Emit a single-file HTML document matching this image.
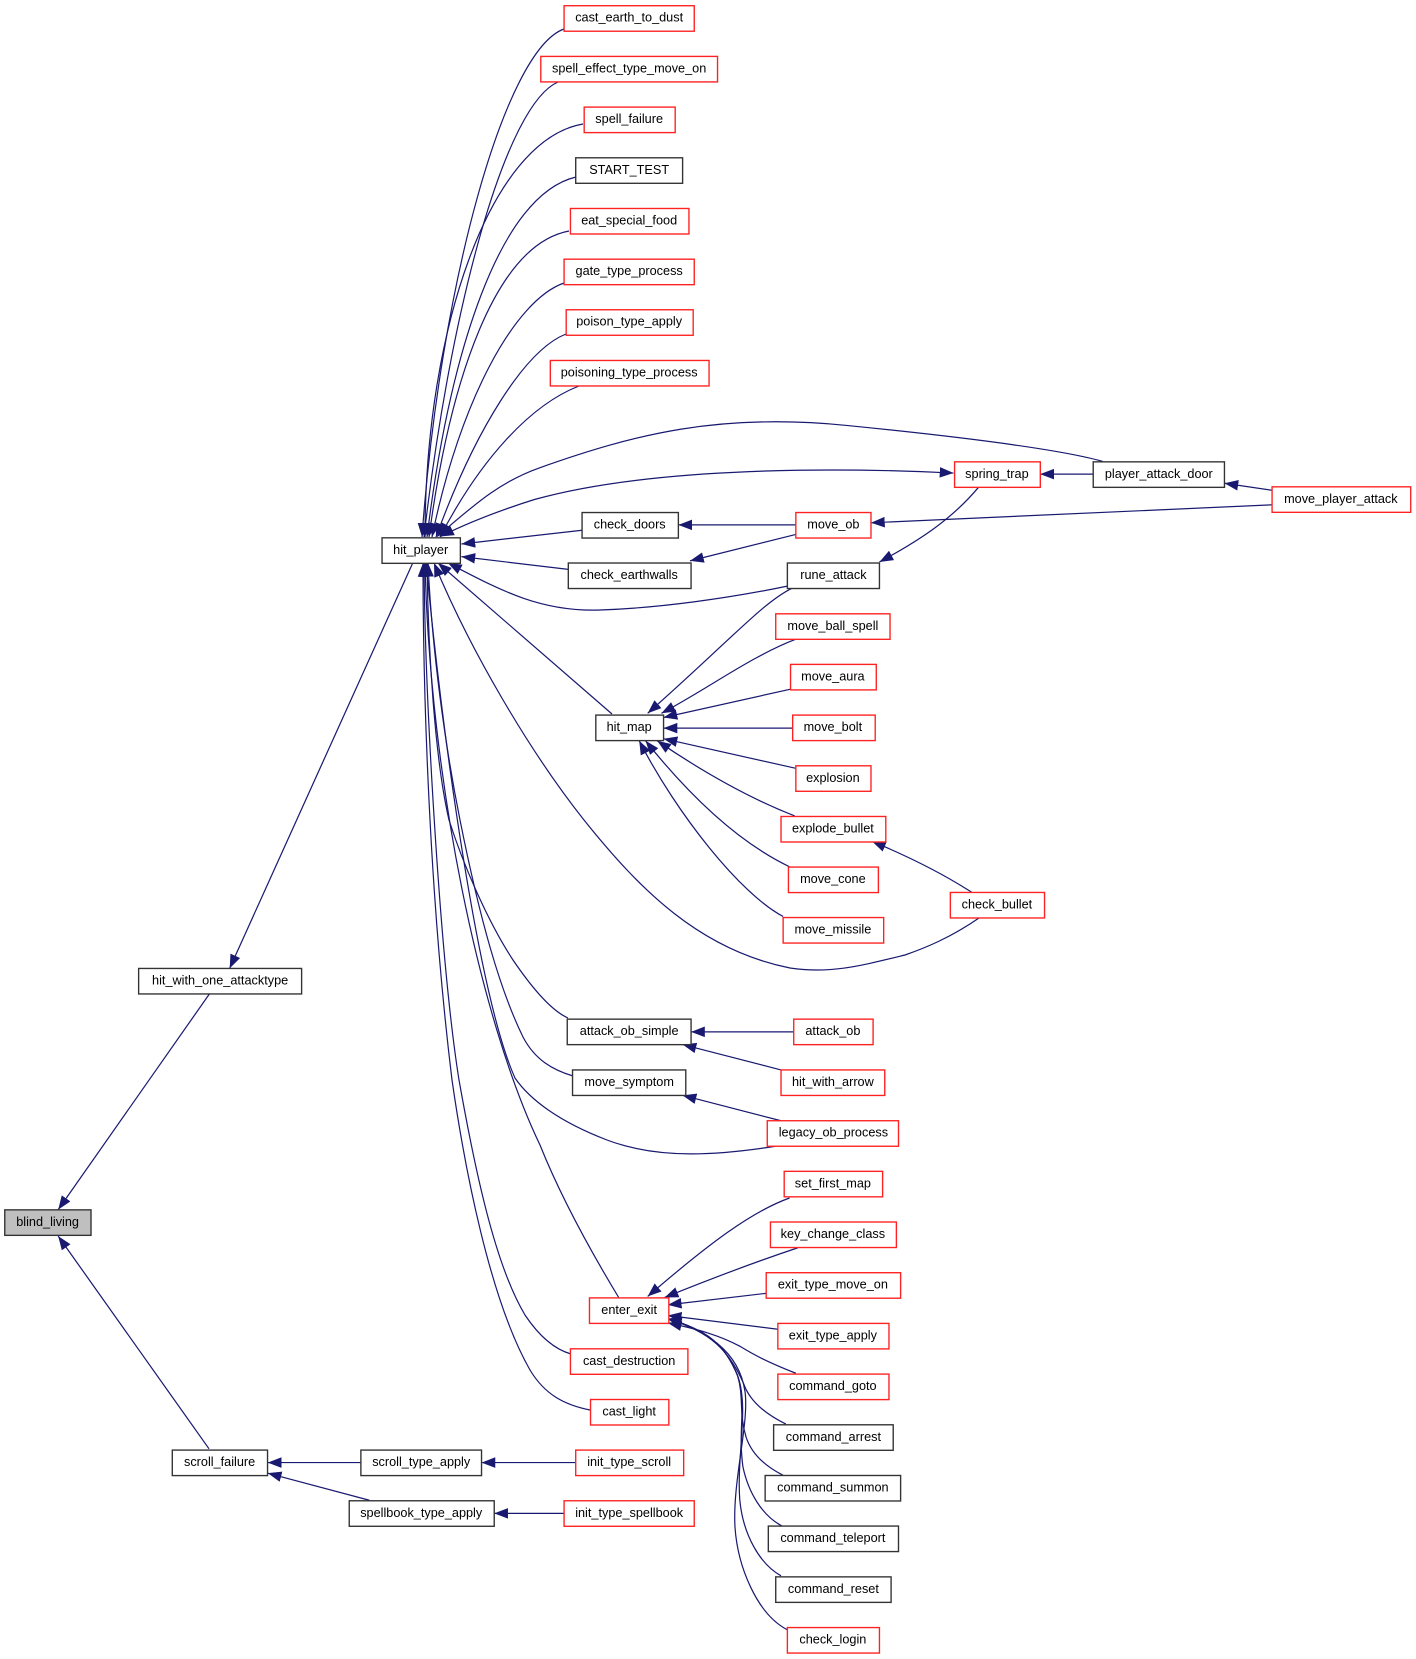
<!DOCTYPE html>
<html><head><meta charset="utf-8"><title>blind_living</title>
<style>
html,body{margin:0;padding:0;background:#fff;width:1416px;height:1659px;overflow:hidden}
svg{display:block}
text{font-family:"Liberation Sans",Arial,sans-serif;font-size:12px;text-anchor:middle;fill:#000;transform:translateY(-0.6px)}
.e path{fill:none;stroke:#191970;stroke-width:1.15;marker-end:url(#a)}
.f path{fill:none;stroke:#191970;stroke-width:1.2;marker-end:url(#c)}
rect{fill:#fff;stroke-width:1.3}
.b rect{stroke:#333}
.r rect{stroke:#f22}
</style></head><body>
<svg xmlns="http://www.w3.org/2000/svg" width="1416" height="1659" viewBox="0 0 1416 1659">
<defs>
<marker id="a" markerUnits="userSpaceOnUse" markerWidth="13" markerHeight="10.4" viewBox="0 0 13 10.4" refX="13" refY="5.2" orient="auto-start-reverse"><polygon points="0,0.2 13,5.2 0,10.2" fill="#191970"/></marker>
<marker id="c" markerUnits="userSpaceOnUse" markerWidth="13.75" markerHeight="11" viewBox="0 0 13 10.4" refX="13" refY="5.2" orient="auto-start-reverse"><polygon points="0,0.2 13,5.2 0,10.2" fill="#191970"/></marker>
</defs>
<g class="f">
<path d="M564,29 C505,50 440,285 422,537"/>
<path d="M558,82 C505,105 450,310 424,537"/>
<path d="M583,124 C490,140 425,330 425,537"/>
<path d="M576,177 C500,195 450,350 427,537"/>
<path d="M569,231 C495,245 450,380 429,537"/>
<path d="M564,283 C515,300 460,400 432,537"/>
<path d="M566,334 C525,350 475,430 436,537"/>
<path d="M579,386 C530,405 480,460 440,537"/>
<path d="M590,1410 C565,1405 545,1395 530,1370 C490,1300 465,1170 452,1080 C430,900 423,700 423,563"/>
<path d="M571,1354 C550,1348 535,1330 525,1315 C495,1265 475,1170 459,1080 C440,960 425,700 424,563"/>
<path d="M619,1298 C590,1250 560,1195 540,1145 C480,1020 430,780 425,563"/>
<path d="M777,1146 C720,1155 660,1160 607,1140 C560,1122 530,1100 515,1078 C480,1000 445,760 426,563"/>
<path d="M573,1076 C553,1070 535,1060 523,1037 C500,990 480,920 460,820 C445,745 432,650 428,563"/>
<path d="M568,1018 C550,1010 530,985 513,960 C490,925 465,870 449,820 C435,760 428,650 427,563"/>
<path d="M979,918 C950,938 925,948 905,955 C860,966 830,974 790,968 C700,950 640,890 584,820 C530,752 470,650 434,563"/>
<path d="M788,586 C730,598 660,608 600,610 C540,612 500,590 448,563"/>
<path d="M612,714 L438,563"/>
</g>
<g transform="scale(1.0583)">
<g class="e">
<path d="M1042,436 C1000,424 900,412 800,402 C680,390 600,410 510,442 C470,456 445,480 413,507"/>
<path style="marker-start:url(#a)" d="M901,447 C800,442 620,440 505,472 C470,483 440,495 416,507"/>
<path d="M550,501 L436,514"/>
<path d="M537,538 L436,526"/>
<path d="M390,532 L217,915"/>
<path d="M198,939 L55,1143"/>
<path d="M197.5,1369 L55,1168"/>
<path d="M341,1382 L253,1382"/>
<path d="M349,1417.6 L253,1392"/>
<path d="M544,1382 L455,1382"/>
<path d="M533,1430 L467,1430"/>
<path d="M752,496 L641,496"/>
<path d="M752,505 L652,530"/>
<path d="M1202,477 L823,494"/>
<path d="M1033,448 L983,448"/>
<path d="M925,460 C900,490 870,510 831,531"/>
<path d="M1202,463.3 L1157,456.6"/>
<path d="M748,556 C720,570 690,605 612,674"/>
<path d="M752,604 C710,620 670,650 625,674"/>
<path d="M748,651 L627,678"/>
<path d="M749,688 L627,688"/>
<path d="M752,726 L627,698"/>
<path d="M751,771 C710,755 665,730 621,700"/>
<path d="M746,819 C696,795 650,750 610,700"/>
<path d="M740,866 C700,845 640,770 604,700"/>
<path d="M918,843 C890,825 860,810 824,795"/>
<path d="M750,975 L653,975"/>
<path d="M738,1011 L645,987"/>
<path d="M738,1059 L645,1035"/>
<path d="M746,1132 C710,1145 670,1175 612,1225"/>
<path d="M754,1179 C715,1192 675,1207 628,1226"/>
<path d="M724.6,1222 L631,1233"/>
<path d="M735,1256 L631,1243"/>
<path d="M752,1297.6 C725,1287 712,1280 699,1272 C680,1262 660,1256 631,1250"/>
<path d="M742.6,1345.6 C725,1337 712,1327 705,1313 C690,1275 670,1258 631,1246"/>
<path d="M740,1394 C722,1385 710,1373 705,1358 C698,1335 703,1320 697,1300 C685,1270 668,1257 631,1246"/>
<path d="M739,1442 C720,1432 707,1410 702,1386 C697,1350 706,1325 697,1300 C685,1270 668,1257 631,1246"/>
<path d="M738,1489 C718,1478 702,1450 699,1417 C696,1375 708,1330 697,1300 C685,1270 668,1257 631,1246"/>
<path d="M744,1540 C715,1525 697,1480 694.5,1443 C692,1400 708,1345 704,1315 C698,1275 665,1257 631,1246"/>
</g>
<g class="b">
<rect x="4.5" y="1143.2" width="81.5" height="24.1" style="fill:#bfbfbf"/><text x="45" y="1158.9">blind_living</text>
<rect x="131" y="915.1" width="154" height="24.1"/><text x="208" y="930.8">hit_with_one_attacktype</text>
<rect x="162.8" y="1370.2" width="90" height="24.1"/><text x="207.5" y="1385.9">scroll_failure</text>
<rect x="341" y="1370.2" width="114" height="24.1"/><text x="398" y="1385.9">scroll_type_apply</text>
<rect x="330" y="1418.1" width="137" height="24.1"/><text x="398" y="1433.8">spellbook_type_apply</text>
<rect x="361" y="508.2" width="74" height="24.1"/><text x="397.5" y="523.9">hit_player</text>
<rect x="544" y="149.1" width="101" height="24.1"/><text x="594.5" y="164.8">START_TEST</text>
<rect x="550" y="484.3" width="91" height="24.1"/><text x="595" y="500">check_doors</text>
<rect x="537" y="532" width="116" height="24.1"/><text x="594.5" y="547.7">check_earthwalls</text>
<rect x="563" y="675.7" width="64" height="24.1"/><text x="594.5" y="691.4">hit_map</text>
<rect x="536" y="963" width="117" height="24.1"/><text x="594.5" y="978.7">attack_ob_simple</text>
<rect x="541" y="1011" width="107" height="24.1"/><text x="594.5" y="1026.7">move_symptom</text>
<rect x="1033" y="436.4" width="124" height="24.1"/><text x="1095" y="452.1">player_attack_door</text>
<rect x="744" y="532" width="87" height="24.1"/><text x="787.5" y="547.7">rune_attack</text>
<rect x="731" y="1346.3" width="113" height="24.1"/><text x="787.5" y="1362">command_arrest</text>
<rect x="723" y="1394.2" width="128" height="24.1"/><text x="787" y="1409.9">command_summon</text>
<rect x="726" y="1442" width="123" height="24.1"/><text x="787" y="1457.7">command_teleport</text>
<rect x="733" y="1490" width="109" height="24.1"/><text x="787.5" y="1505.7">command_reset</text>
</g>
<g class="r">
<rect x="533" y="5.4" width="123" height="24.1"/><text x="594.5" y="21.1">cast_earth_to_dust</text>
<rect x="511" y="53.3" width="167" height="24.1"/><text x="594.5" y="69">spell_effect_type_move_on</text>
<rect x="552" y="101.2" width="86" height="24.1"/><text x="594.5" y="116.9">spell_failure</text>
<rect x="539" y="197" width="112" height="24.1"/><text x="594.5" y="212.7">eat_special_food</text>
<rect x="533" y="244.9" width="123" height="24.1"/><text x="594.5" y="260.6">gate_type_process</text>
<rect x="535" y="292.7" width="120" height="24.1"/><text x="594.5" y="308.4">poison_type_apply</text>
<rect x="520" y="340.6" width="150" height="24.1"/><text x="594.5" y="356.3">poisoning_type_process</text>
<rect x="557" y="1226.4" width="75" height="24.1"/><text x="594.5" y="1242.1">enter_exit</text>
<rect x="539" y="1274.5" width="111" height="24.1"/><text x="594.5" y="1290.2">cast_destruction</text>
<rect x="558" y="1322.4" width="74" height="24.1"/><text x="594.5" y="1338.1">cast_light</text>
<rect x="544" y="1370.2" width="102" height="24.1"/><text x="594.5" y="1385.9">init_type_scroll</text>
<rect x="533" y="1418.1" width="123" height="24.1"/><text x="594.5" y="1433.8">init_type_spellbook</text>
<rect x="902" y="436.4" width="81" height="24.1"/><text x="942" y="452.1">spring_trap</text>
<rect x="1202" y="460" width="131" height="24.1"/><text x="1267" y="475.7">move_player_attack</text>
<rect x="752" y="484.3" width="71" height="24.1"/><text x="787.5" y="500">move_ob</text>
<rect x="733" y="580" width="108" height="24.1"/><text x="787" y="595.7">move_ball_spell</text>
<rect x="747" y="627.8" width="81" height="24.1"/><text x="787" y="643.5">move_aura</text>
<rect x="749" y="675.7" width="78" height="24.1"/><text x="787" y="691.4">move_bolt</text>
<rect x="752" y="723.6" width="71" height="24.1"/><text x="787" y="739.3">explosion</text>
<rect x="738" y="771.5" width="99" height="24.1"/><text x="787" y="787.2">explode_bullet</text>
<rect x="745" y="819.3" width="85" height="24.1"/><text x="787" y="835">move_cone</text>
<rect x="740" y="867" width="95" height="24.1"/><text x="787" y="882.7">move_missile</text>
<rect x="898" y="843.3" width="89" height="24.1"/><text x="942" y="859">check_bullet</text>
<rect x="750" y="963" width="75" height="24.1"/><text x="787" y="978.7">attack_ob</text>
<rect x="738" y="1011" width="98" height="24.1"/><text x="787" y="1026.7">hit_with_arrow</text>
<rect x="725" y="1059" width="124" height="24.1"/><text x="787.5" y="1074.7">legacy_ob_process</text>
<rect x="741" y="1106.8" width="93" height="24.1"/><text x="787" y="1122.5">set_first_map</text>
<rect x="728" y="1154.7" width="119" height="24.1"/><text x="787" y="1170.4">key_change_class</text>
<rect x="724" y="1202.6" width="127" height="24.1"/><text x="787" y="1218.3">exit_type_move_on</text>
<rect x="735" y="1250.5" width="105" height="24.1"/><text x="787" y="1266.2">exit_type_apply</text>
<rect x="735" y="1298.4" width="105" height="24.1"/><text x="787" y="1314.1">command_goto</text>
<rect x="744" y="1537.9" width="87" height="24.1"/><text x="787" y="1553.6">check_login</text>
</g>
</g>
</svg>
</body></html>
